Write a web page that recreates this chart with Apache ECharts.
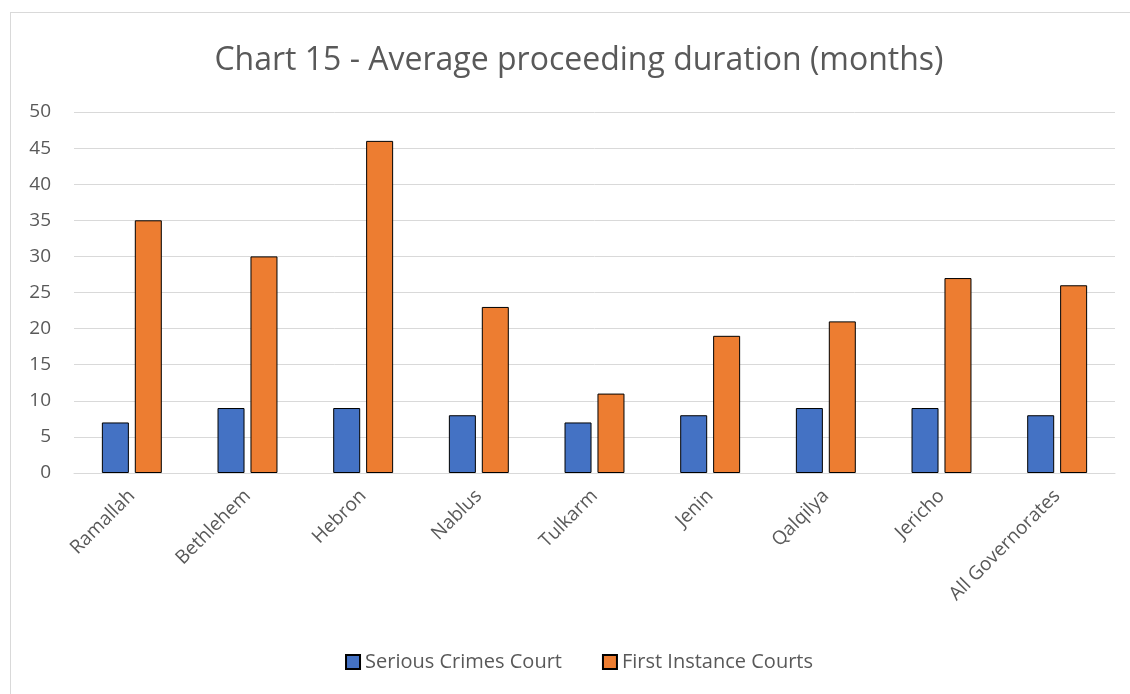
<!DOCTYPE html>
<html>
<head>
<meta charset="utf-8">
<script src="https://cdn.jsdelivr.net/npm/echarts@6/dist/echarts.min.js"></script>
<style>
  html, body { margin: 0; padding: 0; background: #fff; overflow: hidden; }
  #frame { position: absolute; left: 10px; top: 12px; width: 1130px; height: 700px; border: 1px solid #d9d9d9; }
  #chart { position: absolute; left: 14px; top: 0; width: 1130px; height: 694px; }
</style>
</head>
<body>
<div id="frame"></div>
<div id="chart"></div>
<script>
var categories = ['Ramallah', 'Bethlehem', 'Hebron', 'Nablus', 'Tulkarm', 'Jenin', 'Qalqilya', 'Jericho', 'All Governorates'];
var seriousCrimes = [7, 9, 9, 8, 7, 8, 9, 9, 8];
var firstInstance = [35, 30, 46, 23, 11, 19, 21, 27, 26];
var seriesNames = ['Serious Crimes Court', 'First Instance Courts'];

var font = '"Open Sans", "Noto Sans", sans-serif';
var chart = echarts.init(document.getElementById('chart'));
chart.setOption({
	animation: false,
	title: {
		text: 'Chart 15 - Average proceeding duration (months)',
		left: 'center',
		top: 40,
		textStyle: { fontFamily: font, fontSize: 32, fontWeight: 'normal', color: '#595959' }
	},
	legend: {
		data: seriesNames,
		bottom: 17,
		left: 'center',
		itemWidth: 14,
		itemHeight: 14,
		itemGap: 40,
		icon: 'rect',
		textStyle: { fontFamily: font, fontSize: 20, color: '#595959' }
	},
	grid: { left: 60, right: 29, top: 112, bottom: 221 },
	xAxis: {
		type: 'category',
		data: categories,
		axisLine: { lineStyle: { color: '#d9d9d9' } },
		axisTick: { show: false },
		axisLabel: { rotate: 45, interval: 0, fontFamily: font, fontSize: 19, color: '#595959', margin: 20 }
	},
	yAxis: {
		type: 'value',
		min: 0,
		max: 50,
		interval: 5,
		axisLine: { show: false },
		axisTick: { show: false },
		splitLine: { lineStyle: { color: '#d9d9d9', width: 1 } },
		axisLabel: { fontFamily: font, fontSize: 19, color: '#595959', margin: 23 }
	},
	series: [{
		name: seriesNames[0],
		type: 'bar',
		data: seriousCrimes,
		barWidth: 27,
		barGap: '22%',
		itemStyle: { color: '#4472C4', borderColor: '#000', borderWidth: 1 }
	}, {
		name: seriesNames[1],
		type: 'bar',
		data: firstInstance,
		barWidth: 27,
		itemStyle: { color: '#ED7D31', borderColor: '#000', borderWidth: 1 }
	}]
});
</script>
</body>
</html>
